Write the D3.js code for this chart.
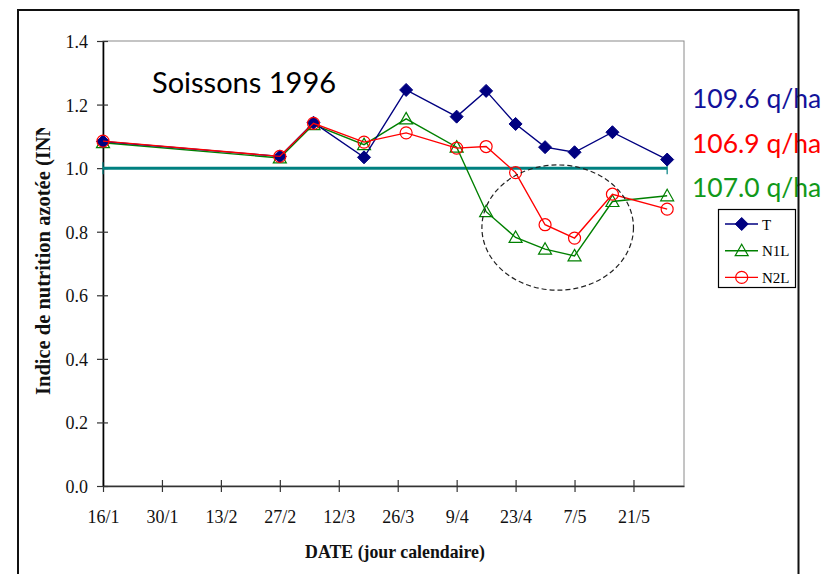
<!DOCTYPE html>
<html>
<head>
<meta charset="utf-8">
<script src="https://cdn.jsdelivr.net/npm/d3@7"></script>
<style>
  html, body { margin: 0; padding: 0; background: #fff; }
  svg { display: block; }
</style>
</head>
<body>
<svg id="chart" width="823" height="574"></svg>
<script>
// ---------- DATA ----------
const dates = ["1996-01-16","1996-02-27","1996-03-06","1996-03-18","1996-03-28","1996-04-09",
               "1996-04-16","1996-04-23","1996-04-30","1996-05-07","1996-05-16","1996-05-29"];
const valuesT   = [1.084, 1.037, 1.143, 1.034, 1.246, 1.162, 1.243, 1.139, 1.066, 1.050, 1.113, 1.027];
const valuesN1L = [1.080, 1.032, 1.137, 1.074, 1.155, 1.066, 0.863, 0.782, 0.745, 0.724, 0.895, 0.913];
const valuesN2L = [1.085, 1.037, 1.141, 1.082, 1.111, 1.063, 1.068, 0.986, 0.822, 0.780, 0.918, 0.871];
const refDates  = ["1996-01-16","1996-05-29"];
const refValues = [1.0, 1.0];
const tickDates  = ["1996-01-16","1996-01-30","1996-02-13","1996-02-27","1996-03-12","1996-03-26",
                    "1996-04-09","1996-04-23","1996-05-07","1996-05-21"];
const tickLabels = ["16/1","30/1","13/2","27/2","12/3","26/3","9/4","23/4","7/5","21/5"];
const yTicks = [0.0, 0.2, 0.4, 0.6, 0.8, 1.0, 1.2, 1.4];
const seriesNames = ["T","N1L","N2L"];
const yieldLabels = ["109.6 q/ha","106.9 q/ha","107.0 q/ha"];
const xDomain = ["1996-01-16","1996-06-02"];
const yDomain = [0, 1.4];
// annotation ellipse (data units): centre date, centre value, half-width in days, half-height in value
const ellipseCentre = ["1996-05-03", 0.813];
const ellipseHalf = [18.5, 0.197];

// ---------- SETUP ----------
const parse = d3.utcParse("%Y-%m-%d");
const svg = d3.select("#chart");
const L = 103, R = 684, T = 41, B = 486;
const x = d3.scaleUtc().domain(xDomain.map(parse)).range([L, R]);
const y = d3.scaleLinear().domain(yDomain).range([B, T]);

const colors = { T: "#000080", N1L: "#008000", N2L: "#ff0000" };
const serif = "'Liberation Serif','Times New Roman',serif";

// plot area border (top/right gray)
svg.append("rect").attr("x", L).attr("y", T).attr("width", R - L).attr("height", B - T)
  .attr("fill", "none").attr("stroke", "#8a8a8a").attr("stroke-width", 1);

// axes
const xAxis = d3.axisBottom(x).tickValues(tickDates.map(parse))
  .tickFormat((d, i) => tickLabels[i]).tickSize(0).tickPadding(0);
const gx = svg.append("g").attr("transform", `translate(0,${B})`).call(xAxis);
gx.select(".domain").attr("stroke", "#333").attr("stroke-width", 1.6);
gx.selectAll(".tick line").attr("y1", -6).attr("y2", 6).attr("stroke", "#333").attr("stroke-width", 1.2);
gx.selectAll(".tick text").attr("y", 37).attr("dy", 0).attr("font-family", serif)
  .attr("font-size", 18).attr("fill", "#111");

const yAxis = d3.axisLeft(y).tickValues(yTicks).tickFormat(d3.format(".1f")).tickSize(0).tickPadding(0);
const gy = svg.append("g").attr("transform", `translate(${L},0)`).call(yAxis);
gy.select(".domain").attr("stroke", "#000").attr("stroke-width", 1.6);
gy.selectAll(".tick line").attr("x1", -6).attr("x2", 5).attr("stroke", "#333").attr("stroke-width", 1.2);
gy.selectAll(".tick text").attr("x", -15).attr("dy", "0.36em").attr("font-family", serif)
  .attr("font-size", 18).attr("fill", "#111");

// reference line at 1.0
const refData = refDates.map((d, i) => ({ d: parse(d), v: refValues[i] }));
svg.append("path").datum(refData)
  .attr("d", d3.line().x(p => x(p.d)).y(p => y(p.v)))
  .attr("stroke", "#008080").attr("stroke-width", 3).attr("fill", "none");
svg.selectAll(".refTick").data(refData).join("line")
  .attr("x1", p => x(p.d)).attr("x2", p => x(p.d))
  .attr("y1", p => y(p.v) - 6).attr("y2", p => y(p.v) + 6)
  .attr("stroke", "#008080").attr("stroke-width", 1.2);

// series
const series = {
  T: dates.map((d, i) => ({ d: parse(d), v: valuesT[i] })),
  N1L: dates.map((d, i) => ({ d: parse(d), v: valuesN1L[i] })),
  N2L: dates.map((d, i) => ({ d: parse(d), v: valuesN2L[i] }))
};
const line = d3.line().x(p => x(p.d)).y(p => y(p.v));

function drawMarker(g, name, cx, cy) {
  if (name === "T") {
    g.append("path").attr("d", `M${cx},${cy - 6.5}L${cx + 6.5},${cy}L${cx},${cy + 6.5}L${cx - 6.5},${cy}Z`)
      .attr("fill", colors.T).attr("stroke", colors.T).attr("stroke-width", 1);
  } else if (name === "N1L") {
    g.append("path").attr("d", `M${cx},${cy - 6.5}L${cx + 6.5},${cy + 5}L${cx - 6.5},${cy + 5}Z`)
      .attr("fill", "none").attr("stroke", colors.N1L).attr("stroke-width", 1.2);
  } else {
    g.append("circle").attr("cx", cx).attr("cy", cy).attr("r", 6)
      .attr("fill", "none").attr("stroke", colors.N2L).attr("stroke-width", 1.2);
  }
}

["N1L", "T", "N2L"].forEach(name => {
  const g = svg.append("g");
  g.append("path").datum(series[name]).attr("d", line)
    .attr("stroke", colors[name]).attr("stroke-width", 1.4).attr("fill", "none");
  series[name].forEach(p => drawMarker(g, name, x(p.d), y(p.v)));
});

// dashed ellipse annotation
const ecx = x(parse(ellipseCentre[0]));
const ecy = y(ellipseCentre[1]);
const erx = x(d3.utcDay.offset(parse(ellipseCentre[0]), ellipseHalf[0])) - ecx;
const ery = y(0) - y(ellipseHalf[1]);
svg.append("ellipse").attr("cx", ecx).attr("cy", ecy).attr("rx", erx).attr("ry", ery)
  .attr("fill", "none").attr("stroke", "#222").attr("stroke-width", 1.2).attr("stroke-dasharray", "5,3");

// title inside plot
svg.append("text").attr("x", 152).attr("y", 93).text("Soissons 1996")
  .attr("font-family", "Lato, 'Open Sans', sans-serif").attr("font-size", 29).attr("fill", "#000");

// yield labels
const yieldColors = ["#12129a", "#ff0000", "#11991a"];
svg.selectAll(".yield").data(yieldLabels).join("text")
  .attr("x", 692).attr("y", (d, i) => 108 + i * 44.5).text(d => d)
  .attr("font-family", "Lato, 'Open Sans', sans-serif").attr("font-size", 26.5)
  .attr("fill", (d, i) => yieldColors[i]);

// legend
const lg = svg.append("g");
lg.append("rect").attr("x", 718.5).attr("y", 209.5).attr("width", 77).attr("height", 78)
  .attr("fill", "#fff").attr("stroke", "#000").attr("stroke-width", 1.2);
seriesNames.forEach((name, i) => {
  const ly = 224 + i * 26.7;
  lg.append("line").attr("x1", 725).attr("x2", 758).attr("y1", ly).attr("y2", ly)
    .attr("stroke", colors[name]).attr("stroke-width", 1.4);
  drawMarker(lg, name, 741.7, ly);
  lg.append("text").attr("x", 762).attr("y", ly + 5.5).text(name)
    .attr("font-family", serif).attr("font-size", 15).attr("fill", "#000");
});

// axis titles
svg.append("text").attr("x", 395).attr("y", 558).attr("text-anchor", "middle")
  .text("DATE (jour calendaire)").attr("font-family", serif).attr("font-weight", "bold")
  .attr("font-size", 17.8).attr("fill", "#111");

const defs = svg.append("defs");
defs.append("clipPath").attr("id", "ytclip").append("rect")
  .attr("x", 0).attr("y", 128).attr("width", 100).attr("height", 400);
svg.append("g").attr("clip-path", "url(#ytclip)")
  .append("text").attr("transform", "translate(49.5,395) rotate(-90)")
  .text("Indice de nutrition azotée (INN)").attr("font-family", serif).attr("font-weight", "bold")
  .attr("font-size", 20.5).attr("fill", "#111");

// outer frame
svg.append("path").attr("d", "M18,574V10H798.5V574")
  .attr("fill", "none").attr("stroke", "#111").attr("stroke-width", 2);
</script>
</body>
</html>
